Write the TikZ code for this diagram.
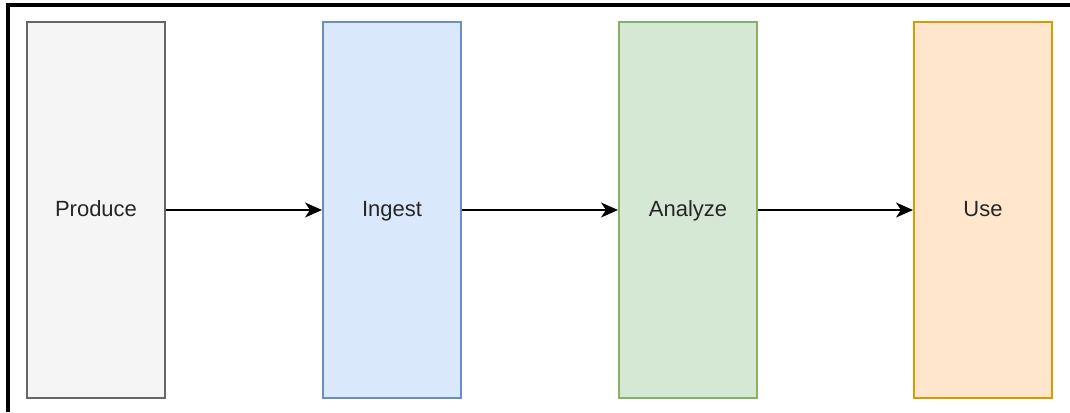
\documentclass[tikz,border=0pt]{standalone}
\usepackage{fontspec}
\setmainfont{Liberation Sans}
\usepackage{xcolor}
\usepackage{tikz}
\usetikzlibrary{arrows.meta,positioning}

\definecolor{grayfill}{HTML}{F5F5F5}
\definecolor{graydraw}{HTML}{666666}
\definecolor{bluefill}{HTML}{DAE8FC}
\definecolor{bluedraw}{HTML}{6C8EBF}
\definecolor{greenfill}{HTML}{D5E8D4}
\definecolor{greendraw}{HTML}{82B366}
\definecolor{orangefill}{HTML}{FFE6CC}
\definecolor{orangedraw}{HTML}{D79B00}

\begin{document}
\begin{tikzpicture}[
            x=1pt, y=-1pt,
            every node/.style={font=\fontsize{22}{26}\selectfont, text=black!85},
            nd/.style={draw, line width=2pt, minimum width=138pt, minimum height=375pt, inner sep=0pt, text height=16pt, text depth=4pt},
            flow/.style={-{Stealth[length=17pt,width=15pt,inset=5pt]}, line width=2pt},
        ]
            \useasboundingbox (0,0) rectangle (1070,412);
            \draw[line width=3.5pt] (8,412) -- (8,5) -- (1070,5);
            \node[nd, fill=grayfill, draw=graydraw] (produce) at (96,210) {Produce};
            \node[nd, fill=bluefill, draw=bluedraw] (ingest) at (392,210) {Ingest};
            \node[nd, fill=greenfill, draw=greendraw] (analyze) at (688,210) {Analyze};
            \node[nd, fill=orangefill, draw=orangedraw] (use) at (983,210) {Use};
            \draw[flow] (produce) -- (ingest);
            \draw[flow] (ingest) -- (analyze);
            \draw[flow] (analyze) -- (use);
        \end{tikzpicture}
\end{document}
